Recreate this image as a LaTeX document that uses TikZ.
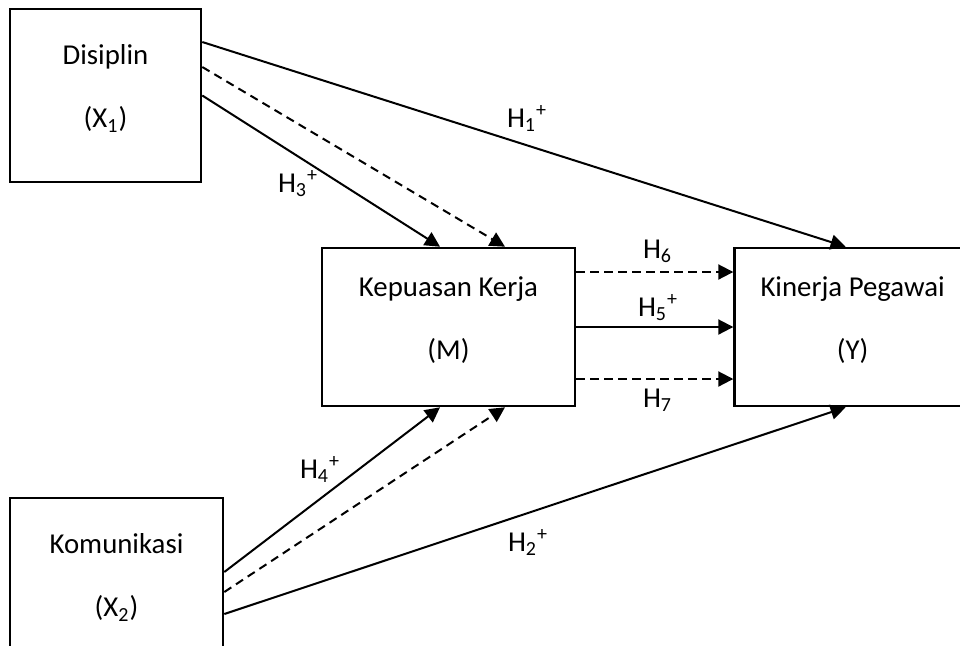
\documentclass[tikz,border=0pt]{standalone}
\usepackage{fontspec}
\setmainfont{Carlito}
\usetikzlibrary{arrows.meta,positioning}
\tikzset{  var/.style={draw,rectangle,line width=1.3pt,inner sep=0pt},
  txt/.style={align=center,inner sep=0pt},
  hyp/.style={anchor=base west,inner sep=0pt},
  indirect/.style={dash pattern=on 4.2pt off 2.8pt} }

\begin{document}
\begin{tikzpicture}[x=0.5pt,y=-0.5pt,line width=1pt,-{Triangle[length=7.5pt,width=7.5pt]},font=\fontsize{14.4}{17.3}\selectfont]
  \useasboundingbox (0,0) rectangle (960,645);
  \node[var,minimum width=95.5pt,minimum height=86.5pt] (x1) at (105.5,95.5) {};
  \node[var,minimum width=126.5pt,minimum height=79pt] (m) at (448.5,327) {};
  \node[var,minimum width=118pt,minimum height=79pt,right=78.5pt of m] (y) {};
  \node[var,minimum width=106.5pt,minimum height=86.5pt] (x2) at (116.5,584.5) {};
  \node[txt] (tx1) at ([yshift=3.5pt]x1.center) {Disiplin\\[14.2pt](X\textsubscript{1})};
  \node[txt] (tm) at ([yshift=3.5pt]m.center) {Kepuasan Kerja\\[14.2pt](M)};
  \node[txt] (ty) at ([yshift=3.5pt]y.center) {Kinerja Pegawai\\[14.2pt](Y)};
  \node[txt] (tx2) at ([yshift=3.5pt]x2.center) {Komunikasi\\[14.2pt](X\textsubscript{2})};
  \draw ([yshift=26.75pt]x1.east) -- ([xshift=-3.5pt]y.north);
  \draw[indirect] ([yshift=14.25pt]x1.east) -- ([xshift=28.25pt]m.north);
  \draw (x1.east) -- ([xshift=-4.25pt]m.north);
  \draw[indirect] ([yshift=27.5pt]m.east) -- ([yshift=27.5pt]y.west);
  \draw (m.east) -- (y.west);
  \draw[indirect] ([yshift=-26pt]m.east) -- ([yshift=-26pt]y.west);
  \draw ([yshift=6.25pt]x2.east) -- ([xshift=-4.25pt]m.south);
  \draw[indirect] ([yshift=-3.75pt]x2.east) -- ([xshift=28.25pt]m.south);
  \draw ([yshift=-14.75pt]x2.east) -- ([xshift=-3.5pt]y.south);
  \node[hyp] (h1) at (506,127) {H\textsubscript{1}\textsuperscript{+}};
  \node[hyp] (h2) at (507,551) {H\textsubscript{2}\textsuperscript{+}};
  \node[hyp] (h3) at (277,192) {H\textsubscript{3}\textsuperscript{+}};
  \node[hyp] (h4) at (299,478) {H\textsubscript{4}\textsuperscript{+}};
  \node[hyp] (h5) at (637,316) {H\textsubscript{5}\textsuperscript{+}};
  \node[hyp] (h6) at (642,258) {H\textsubscript{6}};
  \node[hyp] (h7) at (642,407) {H\textsubscript{7}};
\end{tikzpicture}
\end{document}
